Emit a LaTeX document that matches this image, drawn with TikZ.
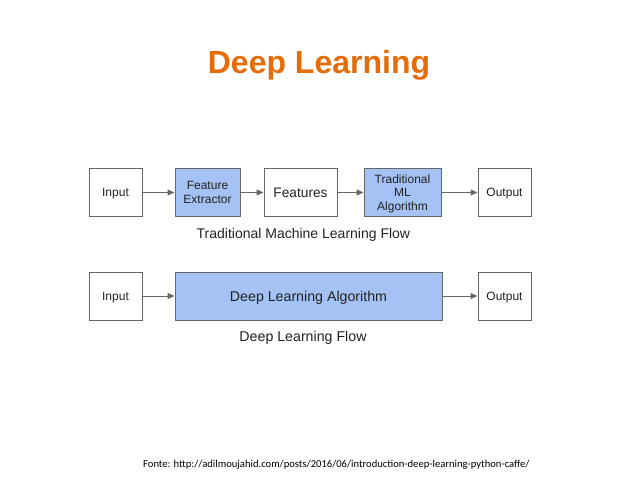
\documentclass[tikz,border=0pt]{standalone}
\usepackage{fontspec}
\setmainfont{Liberation Sans}
\newfontfamily\calib{Carlito}
\usetikzlibrary{arrows.meta}
\definecolor{ttl}{HTML}{E46C0A}
\definecolor{bfill}{HTML}{A4C2F4}
\definecolor{edge}{HTML}{666666}
\definecolor{txt}{HTML}{222222}
\tikzset{
  boxw/.style={draw=edge, line width=1pt, fill=white, minimum height=48pt, inner sep=0pt, align=center, text=txt, text depth=0pt, font=\fontsize{12}{13.5}\selectfont},
  boxb/.style={boxw, fill=bfill},
  conn/.style={draw=edge, line width=1pt, -{Triangle[length=7pt,width=6pt]}},
  captext/.style={text=txt, font=\fontsize{14}{15}\selectfont, inner sep=0pt, text depth=0pt}
}
\begin{document}
\begin{tikzpicture}[x=1pt,y=-1pt]
\useasboundingbox (0,0) rectangle (638,479);
\node[font=\bfseries\fontsize{32}{36}\selectfont, text=ttl, inner sep=0pt, text depth=0pt] (title) at (319,61.5) {Deep Learning};
\node[boxw, minimum width=53pt] (in1) at (115.5,192.5) {Input};
\node[boxb, minimum width=65pt] (fe) at (207.5,192.5) {Feature\\Extractor};
\node[boxw, minimum width=73pt, font=\fontsize{13.7}{15}\selectfont] (feat) at (300.5,192.5) {Features};
\node[boxb, minimum width=77pt] (tml) at (402.5,192.5) {Traditional\\ML\\Algorithm};
\node[boxw, minimum width=53pt] (out1) at (504.5,192.5) {Output};
\draw[conn] (in1) -- (fe);
\draw[conn] (fe) -- (feat);
\draw[conn] (feat) -- (tml);
\draw[conn] (tml) -- (out1);
\node[captext] (cap1) at (303.4,233) {Traditional Machine Learning Flow};
\node[boxw, minimum width=53pt] (in2) at (115.5,296) {Input};
\node[boxb, minimum width=267pt, font=\fontsize{14.2}{15}\selectfont] (dla) at (308.5,296) {Deep Learning Algorithm};
\node[boxw, minimum width=53pt] (out2) at (504.5,296) {Output};
\draw[conn] (in2) -- (dla);
\draw[conn] (dla) -- (out2);
\node[captext, font=\fontsize{14.2}{15}\selectfont] (cap2) at (303,336.7) {Deep Learning Flow};
\node[inner sep=0pt, anchor=west, text depth=0pt, font=\calib\fontsize{10.6}{12}\selectfont] (src) at (143,463.5) {Fonte: http://adilmoujahid.com/posts/2016/06/introduction-deep-learning-python-caffe/};
\end{tikzpicture}
\end{document}
